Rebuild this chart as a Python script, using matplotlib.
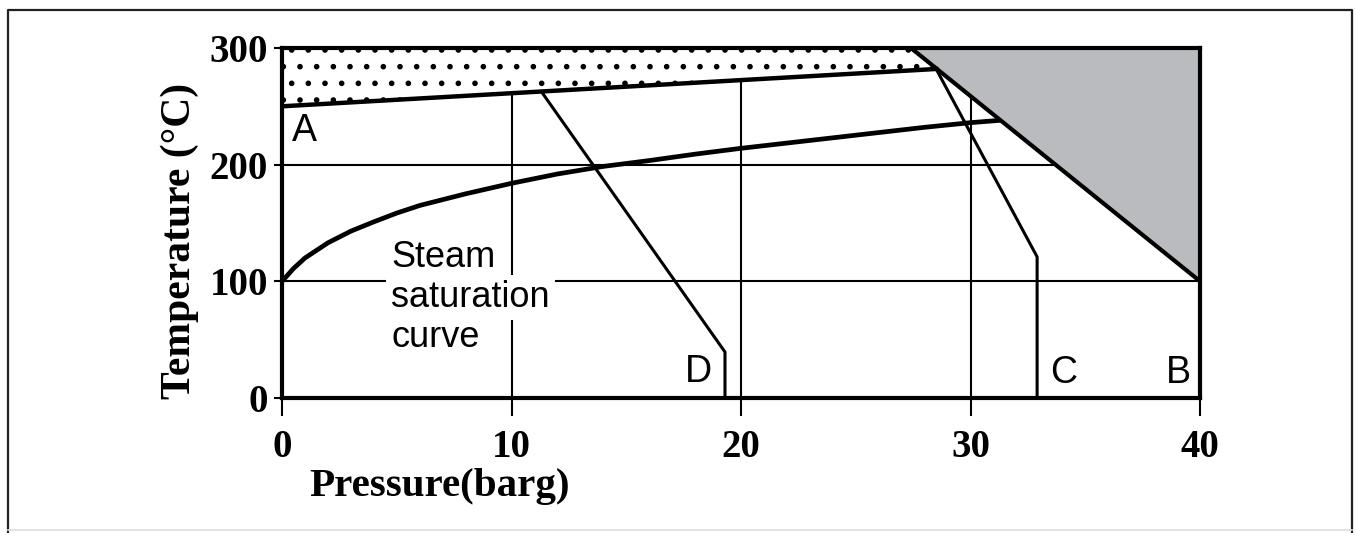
import numpy as np
import matplotlib.pyplot as plt
from matplotlib.lines import Line2D

# steam saturation curve (pressure barg, temperature degC)
steam_p = [0, 0.5, 1, 2, 3, 4, 5, 6, 8, 10, 12, 14, 16, 18, 20, 22, 24, 26, 28, 30, 31.3]
steam_t = [100, 111, 120, 133, 143, 151, 158.5, 165, 175, 184, 192, 198.5, 203.5, 209, 214, 218.5, 223, 227.5, 232, 236, 238]

# line A (upper limit)
line_a_p = [0, 28.5]
line_a_t = [250, 282]

# grey zone (triangle)
grey_p = [27.4, 40, 40]
grey_t = [300, 300, 100]

# lines C and D
line_c_p = [28.5, 32.9, 32.9]
line_c_t = [282, 121, 0]
line_d_p = [11.3, 19.3, 19.3]
line_d_t = [262.6, 39.4, 0]

# letters
letters = ['A', 'B', 'C', 'D']
letter_p = [0.45, 39.6, 33.45, 18.75]
letter_t = [229, 21, 21, 22]
letter_ha = ['left', 'right', 'left', 'right']

xticks = [0, 10, 20, 30, 40]
yticks = [0, 100, 200, 300]

serif = ['Liberation Serif', 'DejaVu Serif']
sans = ['Liberation Sans', 'DejaVu Sans']

plt.rcParams['hatch.linewidth'] = 1.6

fig = plt.figure(figsize=(13.56, 5.33), dpi=100)
ax = fig.add_axes([0.208, 0.2533, 0.677, 0.6567])

# grid
for x in xticks[1:-1]:
    ax.axvline(x, color='black', lw=1.5, zorder=1)
for y in yticks[1:-1]:
    ax.axhline(y, color='black', lw=1.5, zorder=1)

# dotted zone between line A and top
dot_p = line_a_p + [grey_p[0], 0]
dot_t = line_a_t + [grey_t[0], 300]
ax.fill(dot_p, dot_t, facecolor='white', edgecolor='black', hatch='.', lw=0, zorder=2)

# grey zone
ax.fill(grey_p, grey_t, facecolor='#b9bbbe', edgecolor='none', zorder=2)
ax.plot([grey_p[0], grey_p[2]], [grey_t[0], grey_t[2]], color='black', lw=3, zorder=4)

ax.plot(line_a_p, line_a_t, color='black', lw=3.2, zorder=4)
ax.plot(steam_p, steam_t, color='black', lw=3.4, zorder=4, solid_capstyle='butt')
ax.plot(line_c_p, line_c_t, color='black', lw=2.2, zorder=4)
ax.plot(line_d_p, line_d_t, color='black', lw=2.2, zorder=4)

for s, p, t, ha in zip(letters, letter_p, letter_t, letter_ha):
    ax.text(p, t, s, ha=ha, va='center', fontsize=27, family=sans, zorder=5)

# steam curve label, one box per line so grid shows around it
for s, t in zip(['Steam', 'saturation', 'curve'], [112, 78, 44]):
    ax.text(4.75, t, s, ha='left', va='baseline', fontsize=26, family=sans, zorder=3,
            bbox=dict(facecolor='white', edgecolor='none', pad=4))

ax.set_xlim(0, 40)
ax.set_ylim(0, 300)
ax.set_xticks(xticks)
ax.set_yticks(yticks)
for sp in ax.spines.values():
    sp.set_linewidth(3)
    sp.set_zorder(6)
ax.tick_params(axis='x', length=13, width=1.5, pad=9)
ax.tick_params(axis='y', length=6, width=1.5, pad=4)
for lbl in ax.get_xticklabels() + ax.get_yticklabels():
    lbl.set_family(serif)
    lbl.set_fontweight('bold')
    lbl.set_fontsize(28)

ax.set_xlabel('Pressure(barg)', family=serif, fontweight='bold', fontsize=29.5)
ax.xaxis.set_label_coords(0.171, -0.2)
ax.set_ylabel('Temperature (°C)', family=serif, fontweight='bold', fontsize=30)
ax.yaxis.set_label_coords(-0.09, 0.45)

# outer frame
W, H = 1356, 533
fig.add_artist(Line2D([8 / W, 8 / W, 1352 / W, 1352 / W], [0, 1 - 10 / H, 1 - 10 / H, 0],
                      color='#222222', lw=1.6))
fig.add_artist(Line2D([8 / W, 1352 / W], [3 / H, 3 / H], color='#dddddd', lw=1.2))

fig.savefig('out.png', dpi=100)
